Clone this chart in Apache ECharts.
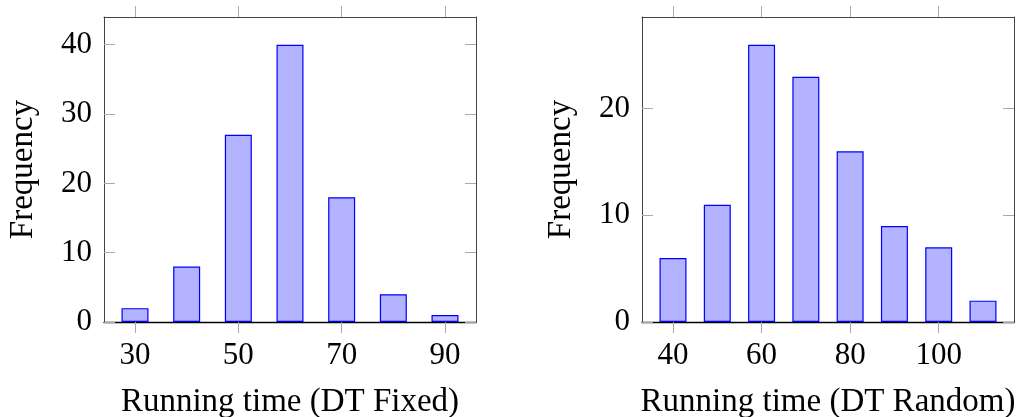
<!DOCTYPE html>
<html>
<head>
<meta charset="utf-8">
<script src="https://cdn.jsdelivr.net/npm/echarts@6/dist/echarts.min.js"></script>
<style>
  html, body { margin: 0; padding: 0; background: #fff; }
  #container { width: 1027px; height: 417px; }
</style>
</head>
<body>
<div id="container"></div>
<script>
// datos: histogramas de tiempos de ejecucion
var fixedBins = [30, 40, 50, 60, 70, 80, 90];
var fixedFreq = [2, 8, 27, 40, 18, 4, 1];
var fixedXTicks = [30, 50, 70, 90];
var fixedYTicks = [0, 10, 20, 30, 40];

var randomBins = [40, 50, 60, 70, 80, 90, 100, 110];
var randomFreq = [6, 11, 26, 23, 16, 9, 7, 2];
var randomXTicks = [40, 60, 80, 100];
var randomYTicks = [0, 10, 20];

document.addEventListener('DOMContentLoaded', function () {
    var dom = document.getElementById('container');
    var myChart = echarts.init(dom);

    var font = 'Liberation Serif';
    var tickColor = '#aaaaaa';
    var frameColor = '#444444';

    function pairs(bins, freq) {
        return bins.map(function (b, i) { return [b, freq[i]]; });
    }

    function xAxes(idx, min, max, ticks, name) {
        return [
            {
                type: 'value', gridIndex: idx, position: 'bottom', min: min, max: max,
                name: name, nameLocation: 'middle', nameGap: 64,
                nameTextStyle: { fontFamily: font, fontSize: 33, color: '#000' },
                axisLine: { show: true, onZero: false, lineStyle: { color: '#000', width: 1.3 } },
                axisTick: { show: true, inside: false, length: 11, customValues: ticks, lineStyle: { color: tickColor } },
                axisLabel: { customValues: ticks, margin: 18, fontFamily: font, fontSize: 31, color: '#000' },
                splitLine: { show: false }
            },
            {
                type: 'value', gridIndex: idx, position: 'top', min: min, max: max,
                axisLine: { show: true, onZero: false, lineStyle: { color: frameColor } },
                axisTick: { show: true, inside: false, length: 11, customValues: ticks, lineStyle: { color: tickColor } },
                axisLabel: { show: false },
                splitLine: { show: false }
            }
        ];
    }

    function yAxes(idx, max, ticks) {
        return [
            {
                type: 'value', gridIndex: idx, position: 'left', min: 0, max: max,
                name: 'Frequency', nameLocation: 'middle', nameGap: 64,
                nameTextStyle: { fontFamily: font, fontSize: 33, color: '#000' },
                axisLine: { show: true, onZero: false, lineStyle: { color: frameColor } },
                axisTick: { show: true, inside: true, length: 11, customValues: ticks, lineStyle: { color: tickColor } },
                axisLabel: { customValues: ticks, margin: 12, fontFamily: font, fontSize: 31, color: '#000' },
                splitLine: { show: false }
            },
            {
                type: 'value', gridIndex: idx, position: 'right', min: 0, max: max,
                axisLine: { show: true, onZero: false, lineStyle: { color: frameColor } },
                axisTick: { show: true, inside: true, length: 11, customValues: ticks, lineStyle: { color: tickColor } },
                axisLabel: { show: false },
                splitLine: { show: false }
            }
        ];
    }

    var barStyle = { color: '#b3b3ff', borderColor: '#0000ff', borderWidth: 1.2 };

    var option = {
        animation: false,
        grid: [
            { left: 104, top: 17, width: 372, height: 305, outerBoundsMode: 'none' },
            { left: 642, top: 17, width: 372, height: 305, outerBoundsMode: 'none' }
        ],
        xAxis: xAxes(0, 24, 96, fixedXTicks, 'Running time (DT Fixed)')
            .concat(xAxes(1, 33, 117, randomXTicks, 'Running time (DT Random)')),
        yAxis: yAxes(0, 44, fixedYTicks).concat(yAxes(1, 28.6, randomYTicks)),
        series: [
            {
                type: 'bar', xAxisIndex: 0, yAxisIndex: 0, barWidth: 27,
                itemStyle: barStyle, data: pairs(fixedBins, fixedFreq)
            },
            {
                type: 'bar', xAxisIndex: 2, yAxisIndex: 2, barWidth: 27,
                itemStyle: barStyle, data: pairs(randomBins, randomFreq)
            }
        ]
    };

    myChart.setOption(option);
    window.addEventListener('resize', myChart.resize);
});
</script>
</body>
</html>
